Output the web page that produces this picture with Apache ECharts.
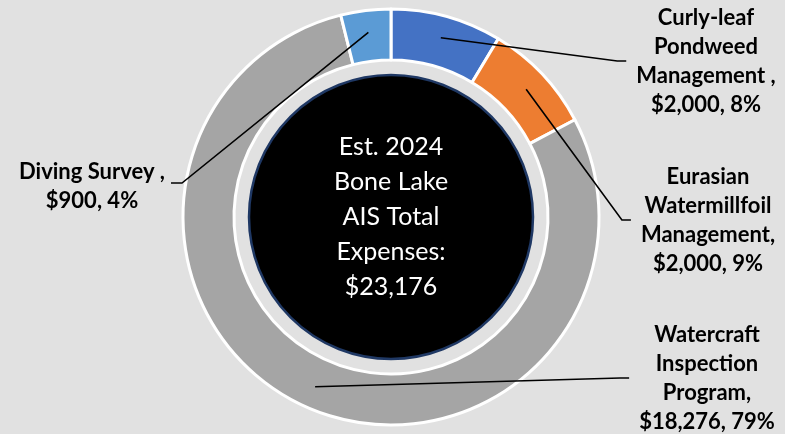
<!DOCTYPE html>
<html>
<head>
<meta charset="utf-8">
<script src="https://cdn.jsdelivr.net/npm/echarts@6/dist/echarts.min.js"></script>
<style>
html,body{margin:0;padding:0;background:#e1e1e1;}
#chart{width:785px;height:434px;}
</style>
</head>
<body>
<div id="chart"></div>
<script>
// ---- data ----
const categories = [
  "Curly-leaf Pondweed Management ",
  "Eurasian Watermillfoil Management",
  "Watercraft Inspection Program",
  "Diving Survey "
];
const values = [2000, 2000, 18276, 900];
const percentLabels = ["8%", "9%", "79%", "4%"];
const labelHeads = [
  "Curly-leaf\nPondweed\nManagement ,",
  "Eurasian\nWatermillfoil\nManagement,",
  "Watercraft\nInspection\nProgram,",
  "Diving Survey ,"
];
const colors = ["#4472C4", "#ED7D31", "#A5A5A5", "#5B9BD5"];
const centerTitle = ["Est. 2024", "Bone Lake", "AIS Total", "Expenses:"];

// ---- layout (label block centres) ----
const labelPos = [[706, 61], [708, 220], [707, 378], [92, 186]];
const CENTER = [391, 217];

const total = values.reduce((a, b) => a + b, 0);
const fmt = v => "$" + v.toLocaleString("en-US");

const chart = echarts.init(document.getElementById('chart'));
const ringData = categories.map((c, i) => ({ name: c, value: values[i], itemStyle: { color: colors[i] } }));

chart.setOption({
  backgroundColor: '#e1e1e1',
  animation: false,
  series: [
    {
      type: 'pie',
      z: 1,
      center: CENTER,
      radius: [0, 142],
      silent: true,
      data: [{ name: 'total', value: total }],
      itemStyle: { color: '#000', borderColor: '#1F3864', borderWidth: 2.5 },
      label: {
        show: true,
        position: 'center',
        formatter: () => centerTitle.join('\n') + '\n' + fmt(total),
        color: '#fff',
        fontFamily: 'Lato',
        fontSize: 25,
        lineHeight: 35
      },
      labelLine: { show: false },
      emphasis: { disabled: true }
    },
    {
      type: 'pie',
      z: 2,
      center: CENTER,
      radius: [157, 208],
      startAngle: 90,
      clockwise: true,
      silent: true,
      data: ringData,
      itemStyle: { borderColor: '#fff', borderWidth: 3 },
      label: { show: false },
      labelLine: { show: false },
      emphasis: { disabled: true }
    },
    {
      type: 'pie',
      z: 10,
      center: CENTER,
      radius: [0, 186],
      startAngle: 90,
      clockwise: true,
      silent: true,
      avoidLabelOverlap: false,
      data: categories.map((c, i) => ({ name: c, value: values[i] })),
      itemStyle: { color: 'rgba(0,0,0,0)', borderWidth: 0 },
      label: {
        show: true,
        position: 'outside',
        formatter: p => labelHeads[p.dataIndex] + '\n' + fmt(values[p.dataIndex]) + ', ' + percentLabels[p.dataIndex],
        color: '#000',
        fontFamily: 'Lato',
        fontWeight: 'bold',
        fontSize: 22,
        lineHeight: 29,
        align: 'center'
      },
      labelLine: { show: true, lineStyle: { color: '#000', width: 1.6 } },
      labelLayout: function (params) {
        const i = params.dataIndex;
        const [x, y] = labelPos[i];
        const w = params.labelRect.width;
        const anchor = params.labelLinePoints ? params.labelLinePoints[0] : [x, y];
        const right = x > CENTER[0];
        const endX = right ? x - w / 2 - 10 : x + w / 2 + 6;
        const endY = i === 3 ? y - 3 : y;
        const elbowX = right ? endX - 9 : endX + 11;
        return {
          x: x, y: y, align: 'center', verticalAlign: 'middle',
          labelLinePoints: [anchor, [elbowX, endY], [endX, endY]]
        };
      },
      emphasis: { disabled: true }
    }
  ]
});
</script>
</body>
</html>
